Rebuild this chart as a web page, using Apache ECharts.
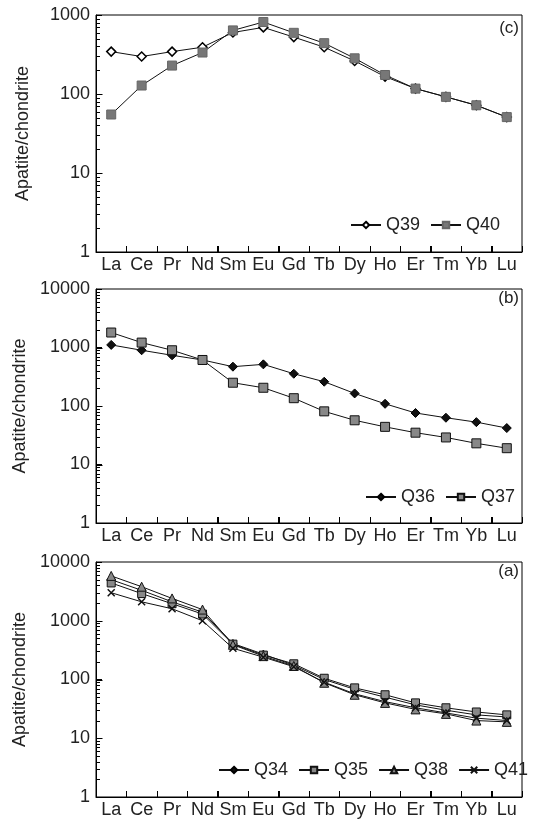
<!DOCTYPE html>
<html>
<head>
<meta charset="utf-8">
<script src="https://cdn.jsdelivr.net/npm/echarts@6/dist/echarts.min.js"></script>
<style>html,body{margin:0;padding:0;background:#fff}#c{width:533px;height:823px}</style>
</head>
<body>
<div id="c"></div>
<script>
const elements = ['La','Ce','Pr','Nd','Sm','Eu','Gd','Tb','Dy','Ho','Er','Tm','Yb','Lu'];
// panel (c)
const Q39 = [344, 298, 344, 391, 601, 697, 525, 391, 262, 166, 117, 92, 72, 51];
const Q40 = [55, 128, 229, 335, 638, 815, 595, 440, 283, 174, 117, 92, 72, 51];
// panel (b)
const Q36 = [1107, 897, 736, 612, 470, 515, 356, 260, 164, 109, 76, 63, 53, 42];
const Q37 = [1803, 1213, 897, 612, 250, 205, 136, 81, 57, 44, 35, 29, 23, 19];
// panel (a)
const Q34 = [5000, 3300, 2100, 1400, 410, 270, 175, 100, 68, 50, 37, 30, 25, 23];
const Q35 = [4400, 2900, 1950, 1300, 400, 260, 185, 105, 72, 55, 40, 33, 28, 25];
const Q38 = [5800, 3800, 2400, 1550, 390, 250, 170, 88, 55, 40, 31, 26, 20, 19];
const Q41 = [3000, 2100, 1600, 1000, 340, 240, 165, 90, 57, 42, 33, 27, 22, 20];
const yMaxC = 1000, yMaxB = 10000, yMaxA = 10000;
const majorTicks = [10, 100, 1000];
const minorTicks = [2,3,4,5,6,7,8,9,20,30,40,50,60,70,80,90,200,300,400,500,600,700,800,900,2000,3000,4000,5000,6000,7000,8000,9000];

const FONT = 'Liberation Sans, Arial, sans-serif';
const grids = [
  {left: 96, width: 426, top: 15, height: 237},
  {left: 96, width: 426, top: 289, height: 234},
  {left: 96, width: 426, top: 562, height: 235}
];
const maxes = [yMaxC, yMaxB, yMaxA];

const xAxes = grids.map((g, i) => ({
  type: 'category', gridIndex: i, data: elements,
  axisTick: {show: true, inside: true, length: 6, lineStyle: {color: '#000', width: 1}},
  axisLine: {lineStyle: {color: '#000', width: 1}},
  axisLabel: {interval: 0, fontSize: 18, color: '#222', fontFamily: FONT, margin: 4}
}));
const yAxes = grids.map((g, i) => ({
  type: 'log', gridIndex: i, min: 1, max: maxes[i],
  name: 'Apatite/chondrite', nameLocation: 'middle', nameGap: 64,
  nameTextStyle: {fontSize: 18, color: '#222', fontFamily: FONT},
  axisLine: {show: true, lineStyle: {color: '#000', width: 1}},
  axisTick: {show: true, inside: true, length: 6, lineStyle: {color: '#000', width: 1}},
  splitLine: {show: false},
  axisLabel: {fontSize: 18, color: '#222', fontFamily: FONT, margin: 6,
    formatter: v => String(Math.round(v))}
}));

function lineSeries(name, data, gi, symbol, size, fill, border, bw) {
  return {
    type: 'line', name: name, data: data, xAxisIndex: gi, yAxisIndex: gi,
    symbol: symbol, symbolSize: size, showAllSymbol: true,
    lineStyle: {color: '#111', width: 1},
    itemStyle: {color: fill, borderColor: border, borderWidth: bw}
  };
}
const xPath = 'path://M0,0L10,10M10,0L0,10';

const series = [
  lineSeries('Q39', Q39, 0, 'diamond', 9, '#fff', '#000', 1.5),
  lineSeries('Q40', Q40, 0, 'rect', 9, '#777', '#666', 1),
  lineSeries('Q36', Q36, 1, 'diamond', 9, '#111', '#000', 1),
  lineSeries('Q37', Q37, 1, 'rect', 9, '#888', '#111', 1),
  lineSeries('Q34', Q34, 2, 'diamond', 8, '#111', '#000', 1),
  lineSeries('Q35', Q35, 2, 'rect', 8, '#888', '#111', 1),
  lineSeries('Q38', Q38, 2, 'triangle', 9, '#888', '#111', 1),
  lineSeries('Q41', Q41, 2, xPath, 7, 'none', '#111', 1.5)
];

const legendBase = {
  orient: 'horizontal', itemWidth: 30, itemHeight: 8, itemGap: 10,
  textStyle: {fontSize: 18, color: '#222', fontFamily: FONT},
  selectedMode: false, padding: 0
};
const legends = [
  Object.assign({}, legendBase, {data: ['Q39','Q40'], left: 350, top: 216}),
  Object.assign({}, legendBase, {data: ['Q36','Q37'], left: 365, top: 488}),
  Object.assign({}, legendBase, {data: ['Q34','Q35','Q38','Q41'], left: 218, top: 761})
];

const labels = [
  {type: 'text', right: 14, top: 20, style: {text: '(c)', fontSize: 17, fill: '#222', fontFamily: FONT}},
  {type: 'text', right: 14, top: 290, style: {text: '(b)', fontSize: 17, fill: '#222', fontFamily: FONT}},
  {type: 'text', right: 14, top: 563, style: {text: '(a)', fontSize: 17, fill: '#222', fontFamily: FONT}}
];

const chart = echarts.init(document.getElementById('c'));
chart.setOption({
  animation: false,
  grid: grids.map(g => Object.assign({show: true, borderColor: '#000', borderWidth: 1}, g)),
  xAxis: xAxes,
  yAxis: yAxes,
  legend: legends,
  series: series,
  graphic: labels
});

// Tick marks placed through the library's own scales (convertToPixel)
const tickEls = [];
function seg(x1, y1, x2, y2) {
  tickEls.push({type: 'line', silent: true, z: 100,
    shape: {x1: x1, y1: y1, x2: x2, y2: y2},
    style: {stroke: '#000', lineWidth: 1}});
}
for (let gi = 0; gi < 3; gi++) {
  const pts = elements.map(e => chart.convertToPixel({gridIndex: gi}, [e, 1]));
  const band = pts[1][0] - pts[0][0];
  const left = Math.round(pts[0][0] - band / 2) + 0.5;
  const bottom = pts[0][1];
  for (let i = 1; i < elements.length; i++) {
    const x = Math.round((pts[i - 1][0] + pts[i][0]) / 2) + 0.5;
    seg(x, bottom, x, bottom - 6);
  }
  majorTicks.filter(v => v < maxes[gi]).forEach(v => {
    const y = Math.round(chart.convertToPixel({gridIndex: gi}, [elements[0], v])[1]) + 0.5;
    seg(left, y, left + 6, y);
  });
  minorTicks.filter(v => v < maxes[gi]).forEach(v => {
    const y = Math.round(chart.convertToPixel({gridIndex: gi}, [elements[0], v])[1]) + 0.5;
    seg(left, y, left + 3.5, y);
  });
}
chart.setOption({graphic: labels.concat(tickEls)});
</script>
</body>
</html>
